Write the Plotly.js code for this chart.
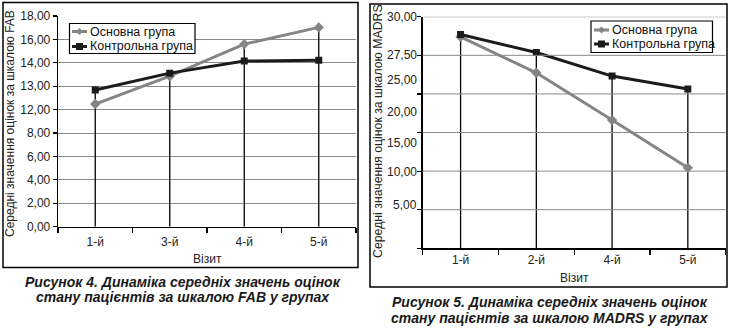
<!DOCTYPE html>
<html>
<head>
<meta charset="utf-8">
<script src="https://cdn.plot.ly/plotly-3.0.1.min.js"></script>
<style>html,body{margin:0;padding:0;background:#fff;}#chart{width:733px;height:328px;}</style>
</head>
<body>
<div id="chart"></div>
<script>
// ---- data ----
const seriesNames = ['Основна група', 'Контрольна група'];
const visitsFab = ['1-й', '3-й', '4-й', '5-й'];
const fabMain = [12.24, 13.43, 15.60, 17.03];
const fabControl = [12.84, 13.56, 14.15, 14.23];
const fabTickValues = [0, 2, 4, 6, 8, 12, 13, 14, 16, 18];

const visitsMadrs = ['1-й', '2-й', '4-й', '5-й'];
const madrsMain = [28.70, 25.73, 18.70, 10.70];
const madrsControl = [28.85, 27.68, 25.40, 23.60];
const madrsTickValues = [30, 27.5, 25, 20, 15, 10, 5];

const xTitle = 'Візит';
const yTitleFab = 'Середні значення оцінок за шкалою FAB';
const yTitleMadrs = 'Середні значення оцінок за шкалою MADRS';
const caption4 = ['Рисунок 4. Динаміка середніх значень оцінок', 'стану пацієнтів за шкалою FAB у групах'];
const caption5 = ['Рисунок 5. Динаміка середніх значень оцінок', 'стану пацієнтів за шкалою MADRS у групах'];

// ---- layout constants (positions on the printed, non-linear axes) ----
const fabTickPos = fabTickValues.map((v, i) => i);          // evenly spaced printed labels
const madrsGridPos = [0, 1, 2, 3, 4, 5, 6];                  // evenly spaced gridlines
const madrsTickPos = [6, 5, 4.36, 3.53, 2.73, 1.98, 1.12];   // where printed labels sit

function interp(v, vals, pos) {
  const pairs = vals.map((x, i) => [x, pos[i]]).sort((a, b) => a[0] - b[0]);
  for (let i = 0; i < pairs.length - 1; i++) {
    const [a0, p0] = pairs[i], [a1, p1] = pairs[i + 1];
    if (v >= a0 && v <= a1) return p0 + (v - a0) / (a1 - a0) * (p1 - p0);
  }
  return v < pairs[0][0] ? pairs[0][1] : pairs[pairs.length - 1][1];
}
const fmt = v => v.toFixed(2).replace('.', ',');
const mapFab = v => interp(v, fabTickValues, fabTickPos);
const mapMadrs = v => interp(v, [0].concat(madrsTickValues), [0].concat(madrsTickPos));

const FONT = 'Liberation Sans, Arial, sans-serif';
const GREY = '#858585', BLACK = '#1b1b1b', GRIDC = '#8a8a8a';
const W = 733, H = 328;
const px = x => x / W, py = y => 1 - y / H;

function dropLines(xs0, a, b, mapF, xa, ya) {
  const xs = [], ys = [];
  xs0.forEach((c, i) => { xs.push(c, c, null); ys.push(mapF(Math.max(a[i], b[i])), 0, null); });
  return {x: xs, y: ys, xaxis: xa, yaxis: ya, mode: 'lines', line: {color: '#000', width: 1.3},
          showlegend: false, hoverinfo: 'skip'};
}
function series(xs, vals, mapF, name, color, symbol, xa, ya) {
  return {x: xs, y: vals.map(mapF), customdata: vals, name: name, xaxis: xa, yaxis: ya,
          mode: 'lines+markers', line: {color: color, width: 3},
          marker: {color: color, symbol: symbol, size: symbol === 'square' ? 7 : 8},
          showlegend: false, hovertemplate: '%{customdata}<extra>' + name + '</extra>'};
}

const madrsIdx = visitsMadrs.map((c, i) => i);

const data = [
  dropLines(visitsFab, fabMain, fabControl, mapFab, 'x', 'y'),
  series(visitsFab, fabMain, mapFab, seriesNames[0], GREY, 'diamond', 'x', 'y'),
  series(visitsFab, fabControl, mapFab, seriesNames[1], BLACK, 'square', 'x', 'y'),
  dropLines(madrsIdx, madrsMain, madrsControl, mapMadrs, 'x2', 'y2'),
  series(madrsIdx, madrsMain, mapMadrs, seriesNames[0], GREY, 'diamond', 'x2', 'y2'),
  series(madrsIdx, madrsControl, mapMadrs, seriesNames[1], BLACK, 'square', 'x2', 'y2')
];

const tickFont = {family: FONT, size: 12, color: '#222'};
const xCommon = {range: [-0.5, 3.5], ticks: 'outside', ticklen: 5,
  tickcolor: '#000', tickwidth: 1.2, showline: true, linecolor: '#000', linewidth: 1.3, showgrid: false,
  zeroline: false, tickfont: tickFont, fixedrange: true};
const yCommon = {showline: true, linecolor: '#000', linewidth: 1.3, ticks: 'outside', ticklen: 4,
  tickcolor: '#000', tickwidth: 1.2, showgrid: true, gridcolor: GRIDC, gridwidth: 1, zeroline: false,
  tickfont: tickFont, fixedrange: true};

// MADRS gridlines as shapes on the y2 scale (gridlines are not where the printed labels are)
const madrsGrid = madrsGridPos.filter(p => p > 0).map(p => ({type: 'line', xref: 'x2 domain', yref: 'y2',
  x0: 0, x1: 1, y0: p, y1: p, layer: 'above', line: {color: GRIDC, width: 1}}));

// legend drawn as shapes + annotations
function legendBox(x0, x1, y0, y1, rowY, lineX0, lineX1) {
  const shapes = [{type: 'rect', xref: 'paper', yref: 'paper', x0: px(x0), x1: px(x1), y0: py(y1), y1: py(y0),
                   line: {color: '#000', width: 1.2}, fillcolor: '#fff'}];
  const colors = [GREY, BLACK];
  const mid = (lineX0 + lineX1) / 2;
  rowY.forEach((y, i) => {
    shapes.push({type: 'line', xref: 'paper', yref: 'paper', x0: px(lineX0), x1: px(lineX1), y0: py(y), y1: py(y),
                 line: {color: colors[i], width: 3}});
    if (i === 0) {
      shapes.push({type: 'path', xref: 'paper', yref: 'paper',
        path: `M${px(mid - 3.5)},${py(y)} L${px(mid)},${py(y - 3.5)} L${px(mid + 3.5)},${py(y)} L${px(mid)},${py(y + 3.5)} Z`,
        fillcolor: colors[i], line: {width: 0}});
    } else {
      shapes.push({type: 'rect', xref: 'paper', yref: 'paper', x0: px(mid - 3.5), x1: px(mid + 3.5),
        y0: py(y + 3.5), y1: py(y - 3.5), fillcolor: colors[i], line: {width: 0}});
    }
  });
  const anns = rowY.map((y, i) => ({xref: 'paper', yref: 'paper', x: px(lineX1 + 1), y: py(y), xanchor: 'left',
    yanchor: 'middle', showarrow: false, text: seriesNames[i], font: {family: FONT, size: 12.5, color: '#111'}}));
  return {shapes, anns};
}
const leg1 = legendBox(69.5, 195, 23.5, 53.5, [31.5, 46.5], 72, 87);
const leg2 = legendBox(591, 712.5, 21, 52.5, [30, 44], 594, 609);

// MADRS printed labels as annotations on the y2 scale
const madrsLabels = madrsTickPos.map((p, i) => ({xref: 'paper', yref: 'y2', x: px(418.5), y: p, xanchor: 'right',
  yanchor: 'middle', showarrow: false, text: fmt(madrsTickValues[i]), font: tickFont}));

const capFont = {family: FONT, size: 14, color: '#1a1a1a'};
function cap(text, x, y) {
  return {xref: 'paper', yref: 'paper', x: px(x), y: py(y), xanchor: 'center', yanchor: 'middle', showarrow: false,
          text: '<b><i>' + text + '</i></b>', font: capFont};
}
const titleFont = {family: FONT, size: 12, color: '#222'};

const layout = {
  width: W, height: H, margin: {l: 0, r: 0, t: 0, b: 0}, paper_bgcolor: '#fff', plot_bgcolor: '#fff',
  showlegend: false,
  xaxis: Object.assign({}, xCommon, {type: 'category', tickson: 'boundaries', domain: [px(58), px(356)],
    anchor: 'y', ticklabelstandoff: 4}),
  yaxis: Object.assign({}, yCommon, {domain: [py(226.7), py(16)], anchor: 'x', range: [0, 9.001],
    tickvals: fabTickPos, ticktext: fabTickValues.map(fmt)}),
  xaxis2: Object.assign({}, xCommon, {type: 'linear', domain: [px(422.7), px(725.7)], anchor: 'y2',
    tickvals: madrsIdx, ticktext: visitsMadrs, ticks: '',
    minor: {tick0: -0.5, dtick: 1, ticks: 'outside', ticklen: 5, tickcolor: '#000', tickwidth: 1.2, showgrid: false}}),
  yaxis2: Object.assign({}, yCommon, {domain: [py(248.3), py(16.7)], anchor: 'x2', range: [0, 6.001],
    tickvals: madrsGridPos, showticklabels: false, showgrid: false}),
  shapes: [
    {type: 'rect', xref: 'paper', yref: 'paper', x0: px(3), x1: px(358), y0: py(267.5), y1: py(2.5),
     line: {color: '#000', width: 1.5}, fillcolor: 'rgba(0,0,0,0)'},
    {type: 'rect', xref: 'paper', yref: 'paper', x0: px(370), x1: px(727), y0: py(287), y1: py(4),
     line: {color: '#000', width: 1.5}, fillcolor: 'rgba(0,0,0,0)'}
  ].concat(madrsGrid, leg1.shapes, leg2.shapes),
  annotations: [
    {xref: 'paper', yref: 'paper', x: px(207), y: py(259), showarrow: false, text: xTitle, font: titleFont,
     xanchor: 'center', yanchor: 'middle'},
    {xref: 'paper', yref: 'paper', x: px(574), y: py(277.5), showarrow: false, text: xTitle, font: titleFont,
     xanchor: 'center', yanchor: 'middle'},
    {xref: 'paper', yref: 'paper', x: px(10.5), y: py(123.5), showarrow: false, text: yTitleFab, textangle: -90,
     font: titleFont, xanchor: 'center', yanchor: 'middle'},
    {xref: 'paper', yref: 'paper', x: px(378), y: py(131), showarrow: false, text: yTitleMadrs, textangle: -90,
     font: {family: FONT, size: 12.3, color: '#222'}, xanchor: 'center', yanchor: 'middle'},
    cap(caption4[0], 183, 281.5), cap(caption4[1], 183, 297),
    cap(caption5[0], 550, 302.3), cap(caption5[1], 550, 317.5)
  ].concat(madrsLabels, leg1.anns, leg2.anns)
};

Plotly.newPlot('chart', data, layout, {displayModeBar: false, staticPlot: true});
</script>
</body>
</html>
